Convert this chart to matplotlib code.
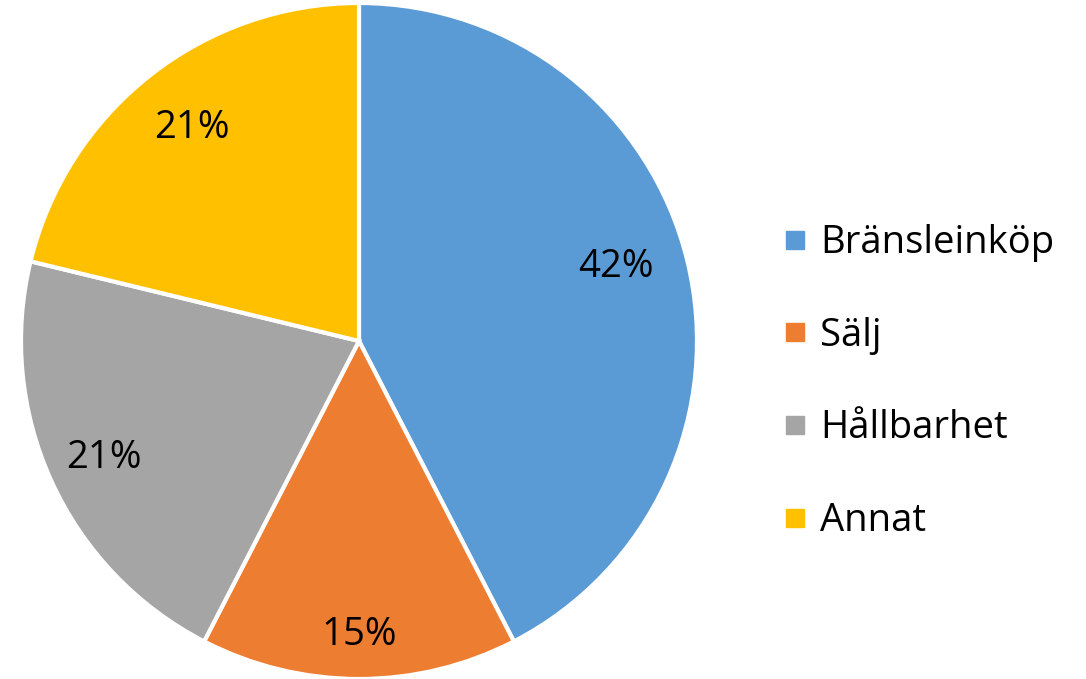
import matplotlib
matplotlib.use("Agg")
import matplotlib.pyplot as plt
from matplotlib.lines import Line2D
import numpy as np

categories = ["Bränsleinköp", "Sälj", "Hållbarhet", "Annat"]
values = [42, 15, 21, 21]
labels = ["42%", "15%", "21%", "21%"]
colors = ["#5B9BD5", "#ED7D31", "#A5A5A5", "#FFC000"]
label_dist = [0.79, 0.87, 0.83, 0.80]
label_angle_shift = [2.5, 0, 0, 0]

plt.rcParams['font.family'] = ['Open Sans', 'DejaVu Sans']

W, H = 1086, 679
fig = plt.figure(figsize=(W / 100, H / 100), dpi=100)
cx, cy, r = 359, 679 - 341, 338
ax = fig.add_axes([(cx - r) / W, (cy - r) / H, 2 * r / W, 2 * r / H])
wedges, _ = ax.pie(values, colors=colors, startangle=90, counterclock=False,
                   radius=1, wedgeprops=dict(edgecolor="white", linewidth=3))
ax.set_xlim(-1, 1)
ax.set_ylim(-1, 1)
ax.set_aspect("equal")
ax.axis("off")

for w, lab, d, s in zip(wedges, labels, label_dist, label_angle_shift):
    ang = np.deg2rad((w.theta1 + w.theta2) / 2 + s)
    ax.text(d * np.cos(ang), d * np.sin(ang), lab, ha="center", va="center",
            fontsize=27.5, color="black")

handles = [Line2D([0], [0], marker="s", linestyle="none", markersize=12.5,
                  markerfacecolor=c, markeredgecolor=c) for c in colors]
fig.legend(handles, categories, loc="center left",
           bbox_to_anchor=(768 / W, 1 - 382 / H), frameon=False,
           fontsize=27.5, labelspacing=1.43, handlelength=0.6, handletextpad=0.36,
           borderaxespad=0)

fig.savefig("out.png", dpi=100)
